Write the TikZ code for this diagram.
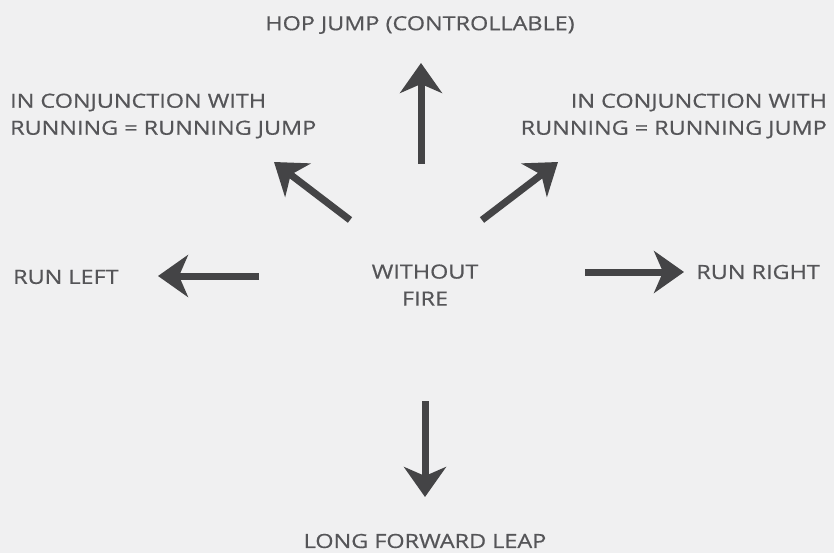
\documentclass[tikz,border=0pt]{standalone}
\usepackage{fontspec}
\setmainfont{Open Sans}
\newfontfamily\rotulo{Open Sans}[FakeStretch=1.2, FakeBold=0.6]
\usetikzlibrary{arrows.meta}
\definecolor{papel}{RGB}{240,240,241}
\definecolor{tinta}{RGB}{85,85,88}
\definecolor{flechagris}{RGB}{68,68,70}

\begin{document}
\begin{tikzpicture}[x=1pt, y=-1pt,
            etiqueta/.style={text=tinta, align=center, inner sep=0pt, font=\rotulo\fontsize{19.5}{27}\selectfont},
            flecha/.style={-{Stealth[length=30pt, width=42pt, inset=9pt]}, line width=7pt, draw=flechagris}
        ]
            % Fondo
            \fill[papel] (0,0) rectangle (834,553);
            \useasboundingbox (0,0) rectangle (834,553);

            % Centro
            \node[etiqueta] (centro) at (425,285) {WITHOUT\\FIRE};

            % Etiquetas
            \node[etiqueta] (salto) at (420,25) {HOP JUMP (CONTROLLABLE)};
            \node[etiqueta, align=left, anchor=west] (carrera_izq) at (10,116) {IN CONJUNCTION WITH\\RUNNING = RUNNING JUMP};
            \node[etiqueta, align=right, anchor=east] (carrera_der) at (827,116) {IN CONJUNCTION WITH\\RUNNING = RUNNING JUMP};
            \node[etiqueta, anchor=west] (izquierda) at (13,277) {RUN LEFT};
            \node[etiqueta, anchor=east] (derecha) at (820,272) {RUN RIGHT};
            \node[etiqueta] (salto_largo) at (425,541) {LONG FORWARD LEAP};

            % Extremos de las flechas
            \coordinate (arriba_a) at (421,164);
            \coordinate (arriba_b) at (421,63);
            \coordinate (arr_izq_a) at (350,220);
            \coordinate (arr_izq_b) at (274,162);
            \coordinate (arr_der_a) at (482,220);
            \coordinate (arr_der_b) at (558,162);
            \coordinate (izq_a) at (259,276);
            \coordinate (izq_b) at (158,276);
            \coordinate (der_a) at (585,272);
            \coordinate (der_b) at (684,272);
            \coordinate (abajo_a) at (425,401);
            \coordinate (abajo_b) at (425,497);

            % Flechas
            \draw[flecha] (arriba_a) -- (arriba_b);
            \draw[flecha] (arr_izq_a) -- (arr_izq_b);
            \draw[flecha] (arr_der_a) -- (arr_der_b);
            \draw[flecha] (izq_a) -- (izq_b);
            \draw[flecha] (der_a) -- (der_b);
            \draw[flecha] (abajo_a) -- (abajo_b);

        \end{tikzpicture}
\end{document}
